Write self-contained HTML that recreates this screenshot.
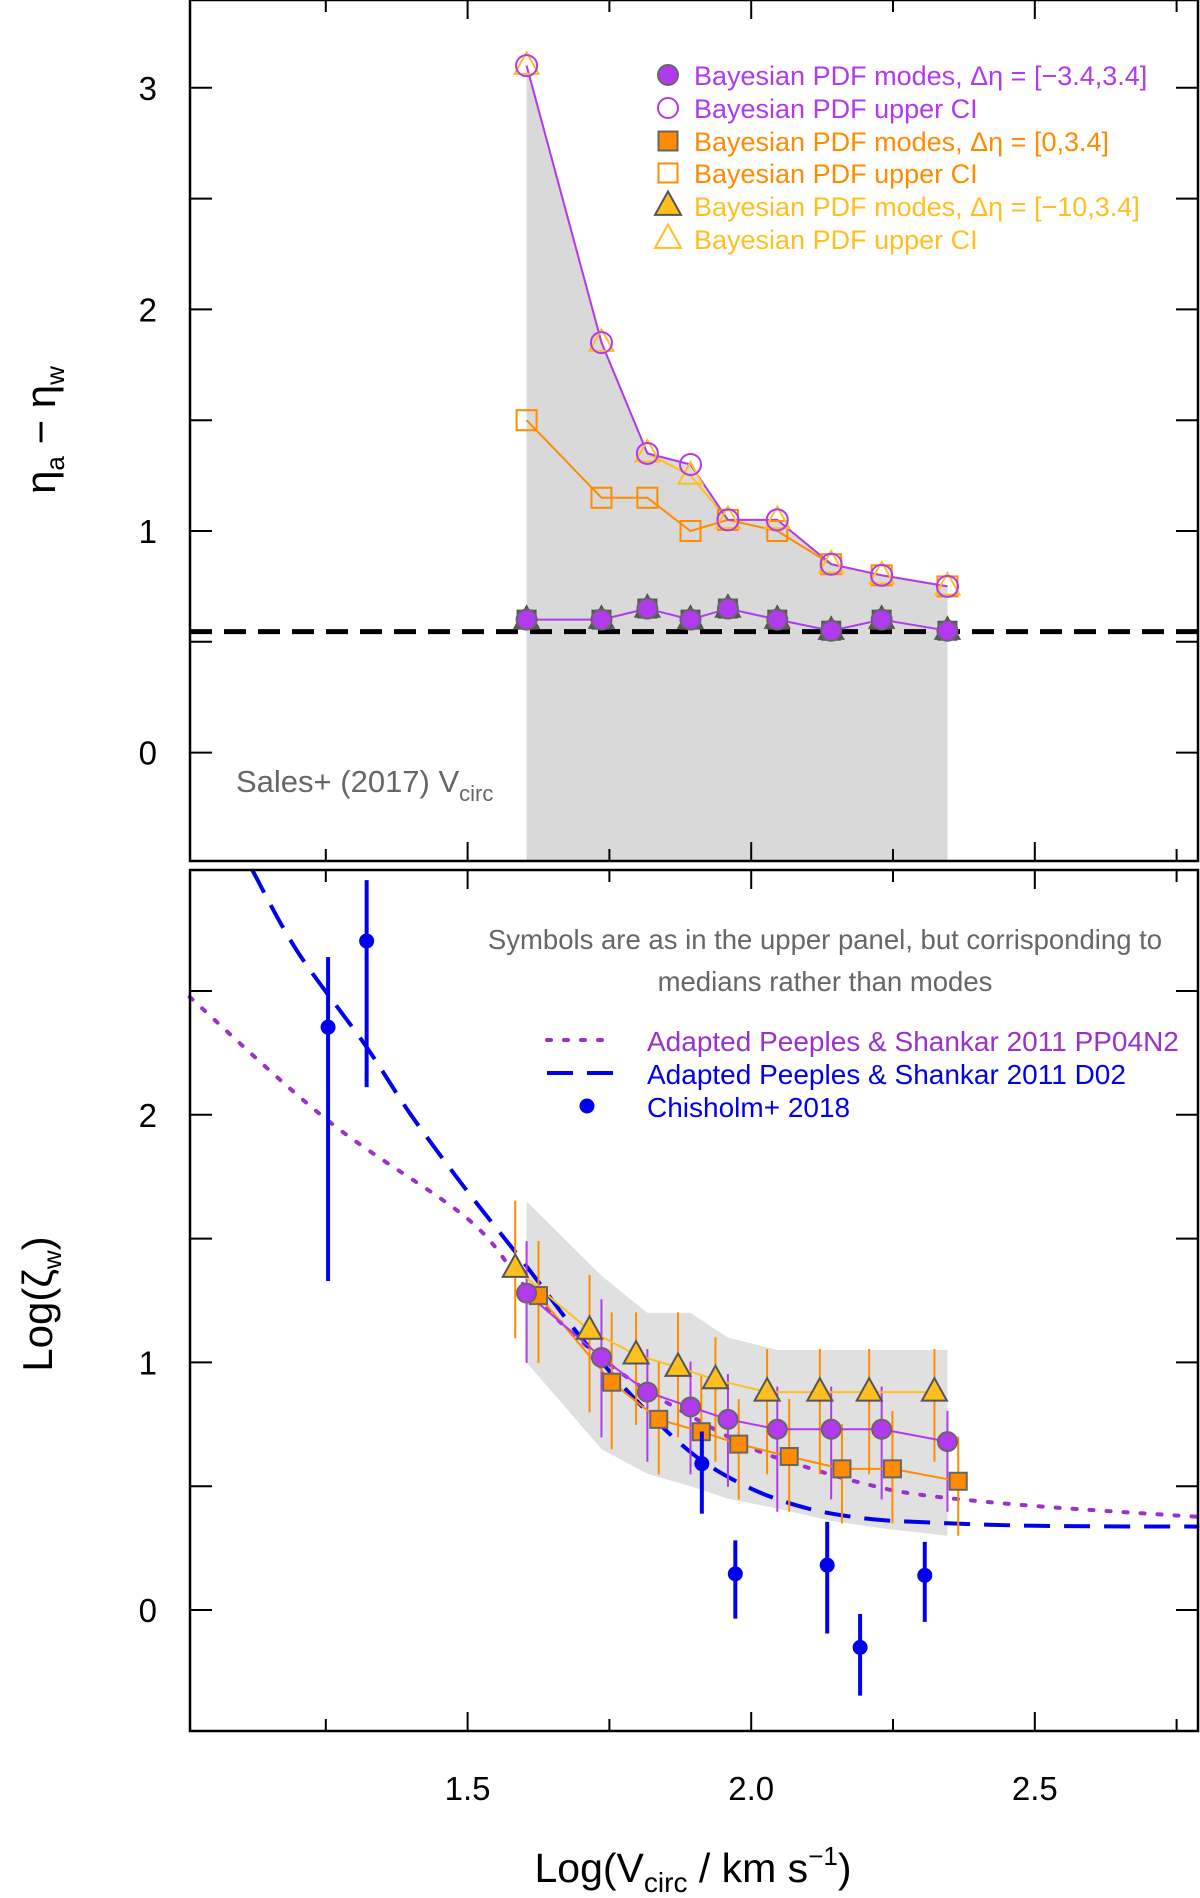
<!DOCTYPE html>
<html><head><meta charset="utf-8"><style>
html,body{margin:0;padding:0;background:#fff;}
svg{display:block;font-family:"Liberation Sans",Arial,sans-serif;}
</style></head><body>
<svg id="chart" width="1200" height="1898" viewBox="0 0 1200 1898">
<g id="upper"></g>
<g id="lower"></g>
</svg>
<script>
// ---- data ----
const upX = [1.604,1.736,1.817,1.893,1.959,2.046,2.141,2.230,2.346];
const upModes = [0.60,0.60,0.65,0.60,0.65,0.60,0.55,0.60,0.55];
const upCircCI = [3.10,1.85,1.35,1.30,1.05,1.05,0.85,0.80,0.75];
const upTriCI = [3.10,1.85,1.35,1.25,1.05,1.05,0.85,0.80,0.75];
const upSqCI = [1.50,1.15,1.15,1.00,1.05,1.00,0.85,0.80,0.75];
const salesLevel = 0.546;
const upYTicks = [0,1,2,3];

const circX = [1.604,1.736,1.817,1.893,1.959,2.046,2.141,2.230,2.346];
const circY = [1.28,1.02,0.88,0.82,0.77,0.73,0.73,0.73,0.68];
const circHi = [1.49,1.255,1.054,1.003,0.953,0.902,0.902,0.902,0.804];
const circLo = [0.998,0.697,0.599,0.548,0.498,0.397,0.447,0.447,0.397];
const sqX = [1.625,1.754,1.837,1.912,1.978,2.067,2.160,2.249,2.365];
const sqY = [1.27,0.92,0.77,0.72,0.67,0.62,0.57,0.57,0.52];
const sqHi = [1.49,1.202,1.003,0.953,0.852,0.852,0.751,0.804,0.70];
const sqLo = [0.998,0.649,0.548,0.498,0.447,0.397,0.35,0.35,0.30];
const triX = [1.584,1.715,1.797,1.871,1.937,2.028,2.121,2.208,2.323];
const triY = [1.38,1.13,1.03,0.98,0.93,0.88,0.88,0.88,0.88];
const triHi = [1.653,1.353,1.202,1.202,1.101,1.054,1.054,1.054,1.054];
const triLo = [1.097,0.798,0.747,0.697,0.599,0.548,0.548,0.548,0.599];
const bandHi = [1.65,1.35,1.20,1.20,1.10,1.05,1.05,1.05,1.05];
const bandLo = [1.00,0.65,0.55,0.50,0.45,0.41,0.36,0.33,0.30];
const chX = [1.254,1.322,1.913,1.972,2.134,2.192,2.306];
const chY = [2.354,2.702,0.591,0.146,0.181,-0.151,0.140];
const chHi = [2.637,2.948,0.721,0.281,0.356,-0.016,0.275];
const chLo = [1.329,2.112,0.389,-0.035,-0.095,-0.346,-0.048];
const d02X = [1.12,1.2,1.32,1.4,1.5,1.6,1.7,1.8,1.9,2.0,2.1,2.2,2.3,2.5,2.79];
const d02Y = [2.99,2.66,2.28,2.00,1.69,1.40,1.10,0.84,0.625,0.49,0.41,0.37,0.355,0.34,0.337];
const ppX = [1.01,1.254,1.5,1.6,1.7,1.8,1.9,2.0,2.1,2.2,2.3,2.5,2.79];
const ppY = [2.476,1.976,1.58,1.31,1.086,0.91,0.775,0.654,0.575,0.51,0.465,0.42,0.376];
const lowYTicks = [0,1,2];
const xTickLabels = ["1.5","2.0","2.5"];
const xTickVals = [1.5,2.0,2.5];

// ---- scales ----
const L=190,R=1198;
const X = v => 467.6 + (v-1.5)*567.2;
const UT=0,UB=861, LT=870, LB=1731;
const YU = v => 752.6 - v*221.6;
const YL = v => 1610 - v*247.6;
const NS="http://www.w3.org/2000/svg";
const PUR="#b23aee", ORA="#ff8c00", YEL="#ffbf1f", BLU="#0000ee";
function mk(tag, attrs, parent){const e=document.createElementNS(NS,tag);for(const k in attrs)e.setAttribute(k,attrs[k]);parent.appendChild(e);return e;}
function pts(xs,ys,fy){return xs.map((x,i)=>X(x).toFixed(1)+","+fy(ys[i]).toFixed(1)).join(" ");}
function smooth(xs,ys,fy){const P=xs.map((x,i)=>[X(x),fy(ys[i])]);let d=`M${P[0][0]},${P[0][1]}`;
  for(let i=0;i<P.length-1;i++){const p0=P[Math.max(0,i-1)],p1=P[i],p2=P[i+1],p3=P[Math.min(P.length-1,i+2)];
    const c1=[p1[0]+(p2[0]-p0[0])/6,p1[1]+(p2[1]-p0[1])/6],c2=[p2[0]-(p3[0]-p1[0])/6,p2[1]-(p3[1]-p1[1])/6];
    d+=` C${c1[0].toFixed(1)},${c1[1].toFixed(1)} ${c2[0].toFixed(1)},${c2[1].toFixed(1)} ${p2[0].toFixed(1)},${p2[1].toFixed(1)}`;}
  return d;}
const up=document.getElementById('upper'), lo=document.getElementById('lower');

function circle(p,x,y,r,fill,stroke,name){const e=mk('circle',{cx:x,cy:y,r:r,fill:fill,stroke:stroke,'stroke-width':2},p);

return e;}
function square(p,x,y,s,fill,stroke,name){const e=mk('rect',{x:x-s/2,y:y-s/2,width:s,height:s,fill:fill,stroke:stroke,'stroke-width':2},p);

return e;}
function tri(p,x,y,s,fill,stroke,name){const h=s*0.9;const e=mk('polygon',{points:`${x},${y-h*0.62} ${x-s/2},${y+h*0.38} ${x+s/2},${y+h*0.38}`,fill:fill,stroke:stroke,'stroke-width':2},p);

return e;}
function txt(p,x,y,s,attrs,name){const e=mk('text',attrs,p);e.setAttribute('x',x);e.setAttribute('y',y);e.innerHTML=s;

return e;}

function axes(p,top,bot,Y,ymin,ymax,lblTicks){
  for(let v=1.25;v<=2.76;v+=0.25){const x=X(v);const maj=Math.abs(v*2-Math.round(v*2))<1e-6;const len=maj?19:12;
    mk('line',{x1:x,y1:top,x2:x,y2:top+len,stroke:'#000','stroke-width':2},p);
    mk('line',{x1:x,y1:bot,x2:x,y2:bot-len,stroke:'#000','stroke-width':2},p);}
  for(let v=Math.ceil(ymin*2)/2;v<=ymax;v+=0.5){const y=Y(v);
    mk('line',{x1:L,y1:y,x2:L+22,y2:y,stroke:'#000','stroke-width':2},p);
    mk('line',{x1:R,y1:y,x2:R-22,y2:y,stroke:'#000','stroke-width':2},p);}
  lblTicks.forEach(v=>{txt(p,157,Y(v)+12,String(v),{'font-size':33,'text-anchor':'end',fill:'#000'},'y-tick-label');});
  const b=mk('rect',{x:L,y:top,width:R-L,height:bot-top,fill:'none',stroke:'#000','stroke-width':2.5},p);
  
  
}

// ===== upper panel =====
{
  const p=up;
  const band=mk('polygon',{points:`${X(upX[0])},${UB} `+pts(upX,upCircCI,YU)+` ${X(upX[upX.length-1])},${UB}`,fill:'#d9d9d9',stroke:'none'},p);
  
  
  const dl=mk('line',{x1:L,y1:YU(salesLevel),x2:R,y2:YU(salesLevel),stroke:'#000','stroke-width':5,'stroke-dasharray':'22,12'},p);
  
  
  const l1=mk('polyline',{points:pts(upX,upSqCI,YU),fill:'none',stroke:ORA,'stroke-width':2},p);
  
  
  const l2=mk('polyline',{points:pts(upX,upTriCI,YU),fill:'none',stroke:YEL,'stroke-width':2},p);
  
  
  const l3=mk('polyline',{points:pts(upX,upCircCI,YU),fill:'none',stroke:PUR,'stroke-width':2},p);
  
  
  const l4=mk('polyline',{points:pts(upX,upModes,YU),fill:'none',stroke:PUR,'stroke-width':2},p);
  
  
  upX.forEach((x,i)=>{
    square(p,X(x),YU(upSqCI[i]),20,'none',ORA,'square-upper-ci');
    tri(p,X(x),YU(upTriCI[i]),24,'none',YEL,'triangle-upper-ci');
    circle(p,X(x),YU(upCircCI[i]),10.5,'none',PUR,'circle-upper-ci');
    tri(p,X(x),YU(upModes[i]),24,'#777','#555','triangle-mode');
    square(p,X(x),YU(upModes[i]),18,'#777','#555','square-mode');
    circle(p,X(x),YU(upModes[i]),10,PUR,'#666','circle-mode');
  });
  const lg=[[75,'c','Bayesian PDF modes, &#916;&#951; = [&#8722;3.4,3.4]',PUR],[108,'co','Bayesian PDF upper CI',PUR],
            [141,'s','Bayesian PDF modes, &#916;&#951; = [0,3.4]',ORA],[173,'so','Bayesian PDF upper CI',ORA],
            [206,'t','Bayesian PDF modes, &#916;&#951; = [&#8722;10,3.4]',YEL],[239,'to','Bayesian PDF upper CI',YEL]];
  lg.forEach(r=>{const y=r[0],mx=668;
    if(r[1]==='c')circle(p,mx,y,10,PUR,'#666','legend-marker');
    if(r[1]==='co')circle(p,mx,y,10,'none',PUR,'legend-marker');
    if(r[1]==='s')square(p,mx,y,19,ORA,'#666','legend-marker');
    if(r[1]==='so')square(p,mx,y,19,'none',ORA,'legend-marker');
    if(r[1]==='t')tri(p,mx,y,26,YEL,'#555','legend-marker');
    if(r[1]==='to')tri(p,mx,y,26,'none',YEL,'legend-marker');
    txt(p,694,y+10,r[2],{'font-size':27,fill:r[3]},'legend-entry');});
  txt(p,236,792,'Sales+ (2017) V<tspan font-size="22" dy="9">circ</tspan>',{'font-size':31,fill:'#666'},'sales-label');
  axes(p,UT,UB,YU,-0.489,3.39,upYTicks);
  txt(p,0,0,'&#951;<tspan font-size="26" dy="9">a</tspan><tspan dy="-9"> &#8722; &#951;</tspan><tspan font-size="26" dy="9">w</tspan>',
      {'font-size':42,'text-anchor':'middle',fill:'#000',transform:'translate(55,430) rotate(-90)'},'y-axis-title-upper');
}

// ===== lower panel =====
{
  const p=lo;
  const band=mk('polygon',{points:pts(circX,bandHi,YL)+" "+pts(circX.slice().reverse(),bandLo.slice().reverse(),YL),fill:'#e0e0e0',stroke:'none'},p);
  
  
  const pp=mk('path',{d:smooth(ppX,ppY,YL),fill:'none',stroke:'#9932cc','stroke-width':4,'stroke-dasharray':'4,13','stroke-linecap':'round'},p);
  
  
  const d2=mk('path',{d:smooth(d02X,d02Y,YL),fill:'none',stroke:BLU,'stroke-width':4,'stroke-dasharray':'26,14'},p);
  
  
  triX.forEach((x,i)=>{mk('line',{x1:X(x),x2:X(x),y1:YL(triHi[i]),y2:YL(triLo[i]),stroke:ORA,'stroke-width':2},p);});
  circX.forEach((x,i)=>{mk('line',{x1:X(x),x2:X(x),y1:YL(circHi[i]),y2:YL(circLo[i]),stroke:PUR,'stroke-width':2},p);});
  sqX.forEach((x,i)=>{mk('line',{x1:X(x),x2:X(x),y1:YL(sqHi[i]),y2:YL(sqLo[i]),stroke:ORA,'stroke-width':2},p);});
  const a=mk('polyline',{points:pts(triX,triY,YL),fill:'none',stroke:YEL,'stroke-width':2},p);
  
  
  const b=mk('polyline',{points:pts(sqX,sqY,YL),fill:'none',stroke:ORA,'stroke-width':2},p);
  
  
  const c=mk('polyline',{points:pts(circX,circY,YL),fill:'none',stroke:PUR,'stroke-width':2},p);
  
  
  sqX.forEach((x,i)=>square(p,X(x),YL(sqY[i]),17,ORA,'#666','square-median'));
  circX.forEach((x,i)=>circle(p,X(x),YL(circY[i]),9.5,PUR,'#666','circle-median'));
  triX.forEach((x,i)=>tri(p,X(x),YL(triY[i]),25,YEL,'#555','triangle-median'));
  chX.forEach((x,i)=>{mk('line',{x1:X(x),x2:X(x),y1:YL(chHi[i]),y2:YL(chLo[i]),stroke:BLU,'stroke-width':4},p);
    circle(p,X(x),YL(chY[i]),7.5,BLU,'none','chisholm-point');});
  txt(p,825,949,'Symbols are as in the upper panel, but corrisponding to',{'font-size':27.5,'text-anchor':'middle',fill:'#666'},'note-line-1');
  txt(p,825,991,'medians rather than modes',{'font-size':27.5,'text-anchor':'middle',fill:'#666'},'note-line-2');
  mk('line',{x1:547,x2:615,y1:1040,y2:1040,stroke:'#9932cc','stroke-width':4,'stroke-dasharray':'4,13','stroke-linecap':'round'},p);
  mk('line',{x1:547,x2:615,y1:1073,y2:1073,stroke:BLU,'stroke-width':4,'stroke-dasharray':'26,14'},p);
  circle(p,587,1106,7.5,BLU,'none','legend-chisholm-marker');
  txt(p,647,1051,'Adapted Peeples &amp; Shankar 2011 PP04N2',{'font-size':28,fill:'#9932cc'},'legend-entry-pp04n2');
  txt(p,647,1084,'Adapted Peeples &amp; Shankar 2011 D02',{'font-size':28,fill:BLU},'legend-entry-d02');
  txt(p,647,1117,'Chisholm+ 2018',{'font-size':28,fill:BLU},'legend-entry-chisholm');
  axes(p,LT,LB,YL,-0.489,2.99,lowYTicks);
  xTickVals.forEach((v,i)=>txt(p,X(v),1800,xTickLabels[i],{'font-size':33,'text-anchor':'middle',fill:'#000'},'x-tick-label'));
  txt(p,0,0,'Log(&#950;<tspan font-size="26" dy="9">w</tspan><tspan dy="-9">)</tspan>',
      {'font-size':42,'text-anchor':'middle',fill:'#000',transform:'translate(52,1304) rotate(-90)'},'y-axis-title-lower');
  txt(p,693,1882,'Log(V<tspan font-size="28" dy="10">circ</tspan><tspan dy="-10"> / km s</tspan><tspan font-size="26" dy="-17">&#8722;1</tspan><tspan dy="17">)</tspan>',
      {'font-size':41,'text-anchor':'middle',fill:'#000'},'x-axis-title');
}
</script>
</body></html>
